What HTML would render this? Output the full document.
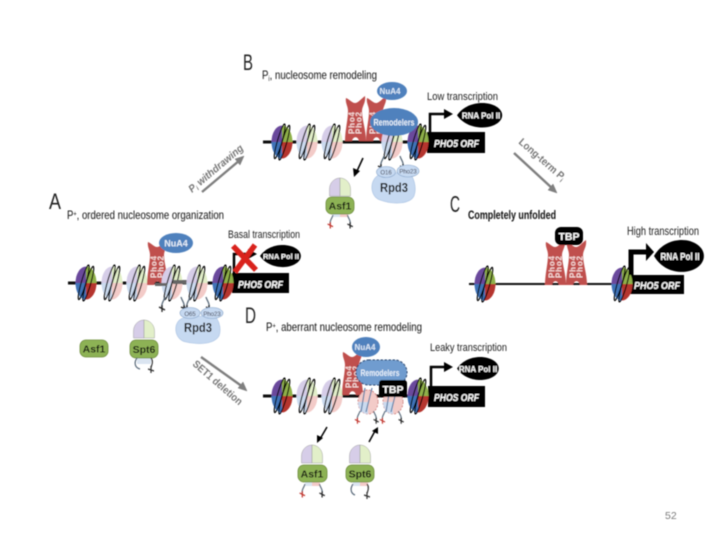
<!DOCTYPE html>
<html><head><meta charset="utf-8"><style>
html,body{margin:0;padding:0;background:#fff}
svg{display:block}
text{font-family:"Liberation Sans",sans-serif}
</style></head><body>
<svg width="720" height="540" viewBox="0 0 720 540" xmlns="http://www.w3.org/2000/svg">
<defs>
<filter id="b" x="-5%" y="-5%" width="110%" height="110%"><feGaussianBlur stdDeviation="0.4"/></filter>
<g id="wrap" fill="none" stroke="#000" stroke-width="1.2">
<ellipse cx="-2.4" cy="0" rx="2.3" ry="18" transform="rotate(16)"/>
<ellipse cx="2.4" cy="0" rx="2.3" ry="18" transform="rotate(16)"/>
</g>
<g id="nc">
<path d="M0-16.5A10.5 16.5 0 0 0-10.5 0H0Z" fill="#6a4a9c"/>
<path d="M0-16.5A10.5 16.5 0 0 1 10.5 0H0Z" fill="#8fb04a"/>
<path d="M0 16.5A10.5 16.5 0 0 1-10.5 0H0Z" fill="#3f73b8"/>
<path d="M0 16.5A10.5 16.5 0 0 0 10.5 0H0Z" fill="#b5352f"/>
<use href="#wrap"/>
</g>
<g id="np">
<path d="M0-16.5A10.5 16.5 0 0 0-10.5 0H0Z" fill="#d6cde8"/>
<path d="M0-16.5A10.5 16.5 0 0 1 10.5 0H0Z" fill="#e2efc9"/>
<path d="M0 16.5A10.5 16.5 0 0 1-10.5 0H0Z" fill="#cbdaef"/>
<path d="M0 16.5A10.5 16.5 0 0 0 10.5 0H0Z" fill="#f3cbc8"/>
<use href="#wrap"/>
</g>
<g id="pho">
<path d="M0 2C3 3 6 7 9 7C12 7 15 3 19 0C20 7 16 10 16 15C16 24 20 34 20 45H13C12 40 7 40 6 45H-1C-1 34 2 24 2 15C2 10 -1 7 0 2Z" fill="#c0504d"/>
<text transform="translate(8.5 38) rotate(-90)" font-size="8" font-weight="bold" fill="#f6dcda" textLength="22" lengthAdjust="spacing">Pho4</text>
<text transform="translate(15.5 38) rotate(-90)" font-size="8" font-weight="bold" fill="#f6dcda" textLength="22" lengthAdjust="spacing">Pho2</text>
</g>
<g id="tail" stroke-width="1.3" fill="none">
<path d="M0 0C-1 4 -4 6 -3 10" stroke="#5a6a7a"/>
<path d="M-6 10L0 13M-3 8L-3 15" stroke="#222"/>
<path d="M0 0C1 4 4 6 3 10" stroke="#5a6a7a" transform="translate(16 0)"/>
<path d="M16 10L22 13M19 8L19 15" stroke="#222"/>
</g>
<g id="tailr" stroke-width="1.3" fill="none">
<path d="M0 0C-1 4 -4 6 -3 10" stroke="#5a6a7a"/>
<path d="M-6 10L0 13M-3 8L-3 15" stroke="#c0332b"/>
<path d="M0 0C1 4 4 6 3 10" stroke="#5a6a7a" transform="translate(16 0)"/>
<path d="M16 10L22 13M19 8L19 15" stroke="#222"/>
</g>
<g id="dome">
<path d="M-10.5 18V11A10.5 11 0 0 1 0 0V18Z" fill="#d6cde8" stroke="#9a9a9a" stroke-width=".5"/>
<path d="M10.5 18V11A10.5 11 0 0 0 0 0V18Z" fill="#e2efc9" stroke="#9a9a9a" stroke-width=".5"/>
</g>
<g id="pol">
<path d="M0 12C6 3 16 0 24 0C34 0 43 5 43 12C43 19 34 24 24 24C16 24 6 21 0 12Z" fill="#000"/>
</g>
</defs>
<rect width="720" height="540" fill="#fff"/>
<g filter="url(#b)">

<!-- Panel labels -->
<text x="49" y="209" font-size="22" fill="#222" textLength="12" lengthAdjust="spacingAndGlyphs">A</text>
<text x="243" y="70" font-size="22" fill="#222" textLength="10" lengthAdjust="spacingAndGlyphs">B</text>
<text x="450" y="212" font-size="23" fill="#222" textLength="10" lengthAdjust="spacingAndGlyphs">C</text>
<text x="245" y="323" font-size="22" fill="#222" textLength="11" lengthAdjust="spacingAndGlyphs">D</text>

<!-- Headers -->
<text x="262" y="79" font-size="12" fill="#111" textLength="115" lengthAdjust="spacingAndGlyphs">P<tspan font-size="7" dy="2">i</tspan><tspan dy="-2">, nucleosome remodeling</tspan></text>
<text x="67" y="219" font-size="12" fill="#111" textLength="157" lengthAdjust="spacingAndGlyphs">P<tspan font-size="7" dy="-3">+</tspan><tspan dy="3">, ordered nucleosome organization</tspan></text>
<text x="266" y="331" font-size="12" fill="#111" textLength="156" lengthAdjust="spacingAndGlyphs">P<tspan font-size="7" dy="-3">+</tspan><tspan dy="3">, aberrant nucleosome remodeling</tspan></text>
<text x="468" y="219" font-size="12" font-weight="bold" fill="#111" textLength="88" lengthAdjust="spacingAndGlyphs">Completely unfolded</text>
<text x="427" y="100" font-size="11" fill="#222" textLength="71" lengthAdjust="spacingAndGlyphs">Low transcription</text>
<text x="228" y="238" font-size="11" fill="#222" textLength="72" lengthAdjust="spacingAndGlyphs">Basal transcription</text>
<text x="430" y="351" font-size="11" fill="#222" textLength="77" lengthAdjust="spacingAndGlyphs">Leaky transcription</text>
<text x="627" y="235" font-size="12" fill="#222" textLength="72" lengthAdjust="spacingAndGlyphs">High transcription</text>

<!-- Gray arrows -->
<g stroke="#7f7f7f" stroke-width="2.4" fill="#7f7f7f">
<path d="M202 192L240 160"/><path d="M244 156L235 159L240 165Z" stroke-width=".5"/>
<path d="M514 153L553 189"/><path d="M557 193L553 184L548 190Z" stroke-width=".5"/>
<path d="M201 357L243 387"/><path d="M247 391L243 382L238 388Z" stroke-width=".5"/>
</g>
<text transform="translate(192 193) rotate(-40)" font-size="10.5" font-weight="bold" font-style="italic" fill="#777" textLength="68" lengthAdjust="spacingAndGlyphs">P<tspan font-size="6.5" dy="2">i</tspan><tspan dy="-2"> withdrawing</tspan></text>
<text transform="translate(518 143) rotate(41)" font-size="10.5" font-weight="bold" fill="#777" textLength="58" lengthAdjust="spacingAndGlyphs">Long-term P<tspan font-size="6.5" dy="2">i</tspan></text>
<text transform="translate(192 365) rotate(41)" font-size="10.5" font-weight="bold" fill="#777" textLength="62" lengthAdjust="spacingAndGlyphs">SET1 deletion</text>

<!-- Panel A -->
<rect x="68" y="281.5" width="165" height="3" fill="#111"/>
<rect x="232" y="273" width="57" height="20" fill="#000"/>
<text x="238" y="288" font-size="10" font-weight="bold" font-style="italic" fill="#fff" textLength="45" lengthAdjust="spacingAndGlyphs">PHO5 ORF</text>
<use href="#nc" x="86" y="283"/><use href="#np" x="112" y="283"/><use href="#np" x="137" y="283"/>
<use href="#pho" transform="translate(148 240)"/>
<use href="#np" x="172" y="283"/>
<path d="M155 283h12v3h-12zM173 280h19v4h-19z" fill="#666"/>
<ellipse cx="176" cy="243" rx="17" ry="10" fill="#4f81bd"/>
<text x="176" y="246.5" font-size="9" font-weight="bold" fill="#e6eef8" text-anchor="middle">NuA4</text>
<use href="#np" x="197" y="283"/><use href="#nc" x="223" y="283"/>
<use href="#tail" transform="translate(165 297)"/>
<use href="#tail" transform="translate(190 297)"/>
<path d="M183 318C172 322 174 340 186 342C200 345 214 344 219 336C222 328 218 316 212 315Z" fill="#c6d9f1" stroke="#a9c2e3" stroke-width=".6"/>
<ellipse cx="190" cy="313" rx="10" ry="5.5" fill="#c6d9f1" stroke="#7f9fc6" stroke-width=".6"/>
<ellipse cx="212" cy="313" rx="11" ry="5.5" fill="#c6d9f1" stroke="#7f9fc6" stroke-width=".6"/>
<text x="190" y="316" font-size="6" text-anchor="middle" fill="#334">O65</text>
<text x="212" y="316" font-size="6" text-anchor="middle" fill="#334">Pho23</text>
<text x="198" y="332" font-size="13" font-weight="bold" text-anchor="middle" fill="#111" textLength="28" lengthAdjust="spacingAndGlyphs">Rpd3</text>
<rect x="80" y="340" width="28" height="17" rx="6" fill="#8db255" stroke="#6b8a3a" stroke-width=".8"/>
<text x="94" y="352.5" font-size="10.5" font-weight="bold" text-anchor="middle" fill="#111">Asf1</text>
<use href="#dome" x="144" y="320"/>
<path d="M137 358h14v6h-14z" fill="#dbe5f1"/>
<rect x="130" y="340" width="28" height="18" rx="6" fill="#8db255" stroke="#6b8a3a" stroke-width=".8"/>
<text x="144" y="353" font-size="10.5" font-weight="bold" text-anchor="middle" fill="#111">Spt6</text>
<path d="M137 358C133 364 136 368 140 369" fill="none" stroke="#5a6a7a" stroke-width="1.2"/>
<path d="M151 358C154 362 151 366 151 368M148 369L154 371M151 366V373" fill="none" stroke="#333" stroke-width="1.2"/>
<path d="M234 273V254H250" fill="none" stroke="#000" stroke-width="2.5"/>
<path d="M257 254L248 249V259Z" fill="#000"/>
<use href="#pol" transform="translate(260 245) scale(.95 .92)"/>
<text x="281" y="259" font-size="7.5" font-weight="bold" fill="#fff" text-anchor="middle">RNA Pol II</text>
<path d="M233 246L256 270M255 245L235 272" stroke="#d9231f" stroke-width="5.5" fill="none"/>

<!-- Panel B -->
<rect x="263" y="140.5" width="165" height="3" fill="#111"/>
<rect x="427" y="132" width="58" height="21" fill="#000"/>
<text x="434" y="147" font-size="10" font-weight="bold" font-style="italic" fill="#fff" textLength="45" lengthAdjust="spacingAndGlyphs">PHO5 ORF</text>
<use href="#nc" x="282" y="142"/><use href="#np" x="307" y="142"/><use href="#np" x="332" y="142"/>
<use href="#pho" transform="translate(346 96)"/>
<use href="#pho" transform="translate(367 96)"/>
<use href="#np" x="392" y="142"/><use href="#nc" x="418" y="142"/>
<ellipse cx="392" cy="91" rx="15" ry="9" fill="#4f81bd"/>
<text x="390" y="94" font-size="8" font-weight="bold" fill="#dce8f6" text-anchor="middle">NuA4</text>
<ellipse cx="394" cy="122" rx="24" ry="14" fill="#4f81bd"/>
<text x="394" y="125.5" font-size="9.5" font-weight="bold" fill="#eaf1fa" text-anchor="middle" textLength="41" lengthAdjust="spacingAndGlyphs">Remodelers</text>
<use href="#tail" transform="translate(384 156)"/>
<path d="M381 174C369 178 369 196 380 200C394 205 410 204 414 196C417 188 414 176 408 172Z" fill="#c6d9f1" stroke="#a9c2e3" stroke-width=".6"/>
<ellipse cx="386" cy="172" rx="9.5" ry="5.5" fill="#c6d9f1" stroke="#7f9fc6" stroke-width=".6"/>
<ellipse cx="408" cy="171" rx="11" ry="6" fill="#c6d9f1" stroke="#7f9fc6" stroke-width=".6"/>
<text x="386" y="174.5" font-size="6" text-anchor="middle" fill="#334">O16</text>
<text x="408" y="173.5" font-size="6" text-anchor="middle" fill="#334">Pho23</text>
<text x="394" y="192" font-size="13" font-weight="bold" text-anchor="middle" fill="#111" textLength="28" lengthAdjust="spacingAndGlyphs">Rpd3</text>
<path d="M363 158L357 171" stroke="#000" stroke-width="1.5"/><path d="M354 177L353 168L360 171Z" fill="#000"/>
<use href="#dome" x="340" y="178"/>
<path d="M333 212h7v5h-7z" fill="#dbe5f1"/><path d="M340 212h8v5h-8z" fill="#f3cbc8"/>
<rect x="326" y="197" width="28" height="17" rx="6" fill="#8db255" stroke="#6b8a3a" stroke-width=".8"/>
<text x="340" y="209.5" font-size="10.5" font-weight="bold" text-anchor="middle" fill="#111">Asf1</text>
<use href="#tailr" transform="translate(333 215) scale(.9)"/>
<path d="M430 132V114H446" fill="none" stroke="#000" stroke-width="2.5"/>
<path d="M453 114L444 109V119Z" fill="#000"/>
<use href="#pol" transform="translate(457 103) scale(1.05 1.02)"/>
<text x="481" y="118.5" font-size="8" font-weight="bold" fill="#fff" text-anchor="middle">RNA Pol II</text>

<!-- Panel C -->
<rect x="469" y="283" width="162" height="2" fill="#111"/>
<rect x="630" y="275" width="54" height="19" fill="#000"/>
<text x="634" y="289" font-size="10" font-weight="bold" font-style="italic" fill="#fff" textLength="46" lengthAdjust="spacingAndGlyphs">PHO5 ORF</text>
<use href="#nc" x="485" y="284"/><use href="#nc" x="622" y="284"/>
<use href="#pho" transform="translate(546 240)"/>
<use href="#pho" transform="translate(567 240)"/>
<rect x="555" y="227" width="28" height="18" rx="6" fill="#000"/>
<text x="569" y="240" font-size="10.5" font-weight="bold" fill="#fff" text-anchor="middle">TBP</text>
<path d="M631 275V252H648" fill="none" stroke="#000" stroke-width="5"/>
<path d="M654 252L646 243V261Z" fill="#000"/>
<use href="#pol" transform="translate(654 240) scale(1.16 1.33)"/>
<text x="680" y="260" font-size="10" font-weight="bold" fill="#fff" text-anchor="middle" textLength="39" lengthAdjust="spacingAndGlyphs">RNA Pol II</text>

<!-- Panel D -->
<rect x="263" y="394.5" width="166" height="3" fill="#111"/>
<rect x="428" y="386" width="57" height="21" fill="#000"/>
<text x="434" y="401" font-size="10" font-weight="bold" font-style="italic" fill="#fff" textLength="45" lengthAdjust="spacingAndGlyphs">PHOS ORF</text>
<use href="#nc" x="282" y="396"/><use href="#np" x="307" y="396"/><use href="#np" x="332" y="396"/>
<use href="#pho" transform="translate(343 350)"/>
<g stroke="#c0504d" stroke-width=".7" stroke-dasharray="2 1.5">
<ellipse cx="368" cy="402" rx="10" ry="12" fill="#f3cbc8"/>
<ellipse cx="393" cy="402" rx="10" ry="12" fill="#f3cbc8"/>
</g>
<path d="M358 402a10 12 0 0 0 10 12v-12zM383 402a10 12 0 0 0 10 12v-12z" fill="#cbdaef"/>
<path d="M365 388L361 412M372 388L366 412M390 388L386 412M397 388L391 412" stroke="#5f7fa6" stroke-width="1.2"/>
<use href="#tailr" transform="translate(360 411) scale(.85)"/>
<use href="#tailr" transform="translate(385 411) scale(.85)"/>
<use href="#nc" x="418" y="396"/>
<ellipse cx="366" cy="347" rx="14" ry="10" fill="#4f81bd"/>
<text x="365" y="350" font-size="8" font-weight="bold" fill="#dce8f6" text-anchor="middle">NuA4</text>
<rect x="356" y="360" width="51" height="25" rx="12.5" fill="#6f9ccf" stroke="#1f3864" stroke-width="1" stroke-dasharray="2.5 1.5"/>
<text x="380" y="376" font-size="9" font-weight="bold" fill="#eaf1fa" text-anchor="middle" textLength="39" lengthAdjust="spacingAndGlyphs">Remodelers</text>
<rect x="379" y="380" width="28" height="17" rx="3" fill="#000"/>
<text x="393" y="393" font-size="10.5" font-weight="bold" fill="#fff" text-anchor="middle">TBP</text>
<path d="M327 427L320 439" stroke="#000" stroke-width="1.5"/><path d="M317 443L317 435L323 438Z" fill="#000"/>
<path d="M369 442L375 431" stroke="#000" stroke-width="1.5"/><path d="M378 427L372 431L378 434Z" fill="#000"/>
<use href="#dome" x="312" y="445"/>
<path d="M305 480h7v6h-7z" fill="#dbe5f1"/><path d="M312 480h8v6h-8z" fill="#f3cbc8"/>
<rect x="298" y="465" width="29" height="17" rx="6" fill="#8db255" stroke="#6b8a3a" stroke-width=".8"/>
<text x="312" y="477.5" font-size="10.5" font-weight="bold" text-anchor="middle" fill="#111">Asf1</text>
<use href="#tailr" transform="translate(305 484) scale(.9)"/>
<use href="#dome" x="360" y="445"/>
<path d="M353 480h7v6h-7z" fill="#dbe5f1"/><path d="M360 480h8v6h-8z" fill="#f3cbc8"/>
<rect x="346" y="465" width="28" height="17" rx="6" fill="#8db255" stroke="#6b8a3a" stroke-width=".8"/>
<text x="360" y="477.5" font-size="10.5" font-weight="bold" text-anchor="middle" fill="#111">Spt6</text>
<path d="M353 484C349 490 352 494 355 495" fill="none" stroke="#5a6a7a" stroke-width="1.2"/>
<path d="M367 484C370 488 367 492 367 494M364 495L370 497M367 492V499" fill="none" stroke="#333" stroke-width="1.2"/>
<path d="M431 386V367H446" fill="none" stroke="#000" stroke-width="2.5"/>
<path d="M453 367L444 362V372Z" fill="#000"/>
<use href="#pol" transform="translate(457 357) scale(.97 .96)"/>
<text x="478" y="372" font-size="8" font-weight="bold" fill="#fff" text-anchor="middle">RNA Pol II</text>

<text x="665" y="519" font-size="10.5" fill="#7a7a7a">52</text>
</g>
</svg>
</body></html>
